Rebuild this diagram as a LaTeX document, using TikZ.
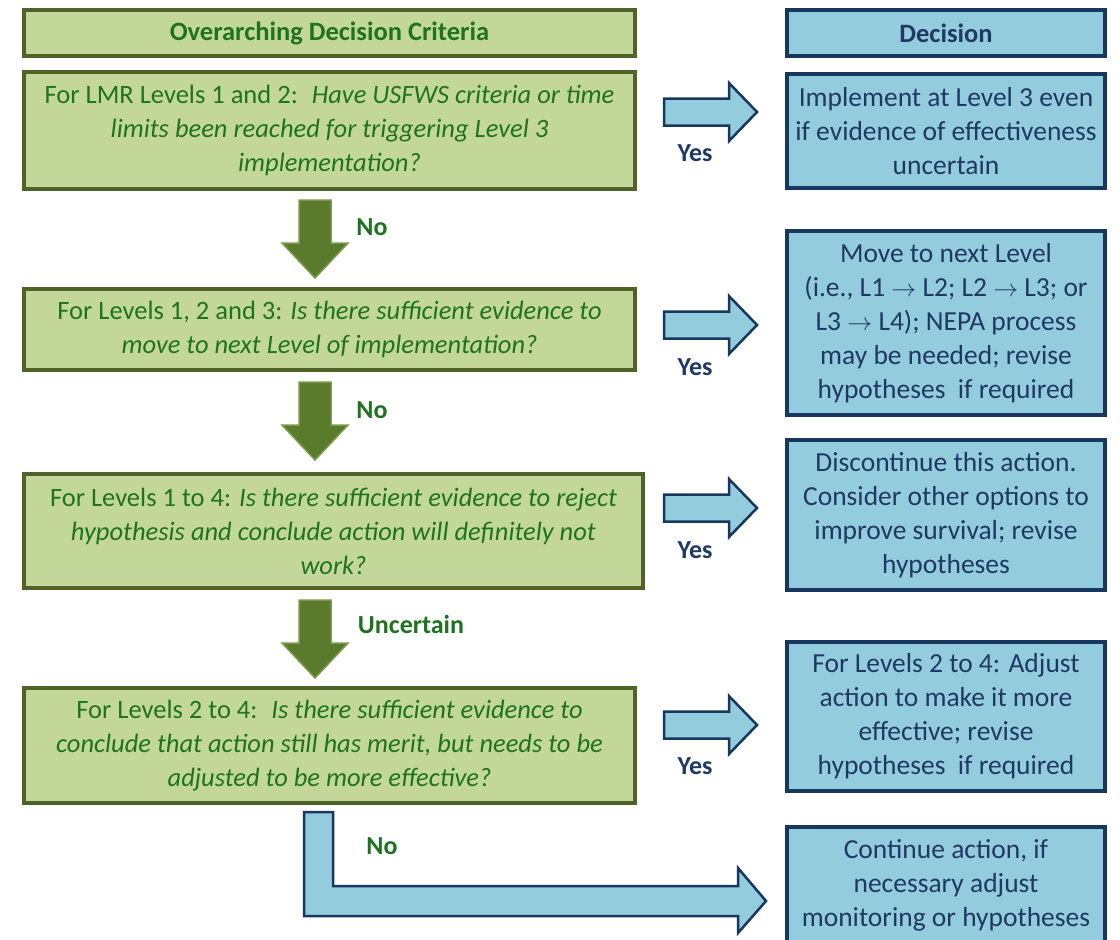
\documentclass[tikz,border=0pt]{standalone}
\usepackage{fontspec}
\setmainfont{Carlito}
\usetikzlibrary{shadows}

\definecolor{gfill}{HTML}{C4D79B}
\definecolor{gline}{HTML}{4F6228}
\definecolor{gtext}{HTML}{1E7321}
\definecolor{garrow}{HTML}{5A7A2C}
\definecolor{garrowedge}{HTML}{7A9A4C}
\definecolor{bfill}{HTML}{93CDDD}
\definecolor{bline}{HTML}{17375E}
\definecolor{btext}{HTML}{1F3864}

\tikzset{
  box/.style={draw, line width=3.5pt, inner sep=0pt, align=center,
    drop shadow={opacity=0.25, shadow xshift=1.5pt, shadow yshift=-2pt}},
  gbox/.style={box, fill=gfill, draw=gline, text=gtext,
    font=\fontsize{26.5}{34}\selectfont},
  bbox/.style={box, fill=bfill, draw=bline, text=btext,
    font=\fontsize{27.5}{34}\selectfont},
  headfont/.style={font=\fontsize{26.5}{34}\selectfont\bfseries},
  glabel/.style={font=\fontsize{26}{30}\selectfont\bfseries, text=gtext},
  blabel/.style={font=\fontsize{26}{30}\selectfont\bfseries, text=btext},
  % block arrow pointing right (to a decision)
  rarrow/.pic={\path[fill=bfill, draw=bline, line width=2.5pt]
    (0,-13.5) -- (65,-13.5) -- (65,-29) -- (93,0) -- (65,29) -- (65,13.5) -- (0,13.5) -- cycle;},
  % block arrow pointing down (to the next criterion)
  darrow/.pic={\path[fill=garrow, draw=garrowedge, line width=1.5pt]
    (-16,0) -- (16,0) -- (16,43) -- (33,43) -- (0,78) -- (-33,43) -- (-16,43) -- cycle;}
}

\begin{document}
\begin{tikzpicture}[x=1pt, y=-1pt]
\useasboundingbox[fill=white] (0,0) rectangle (1120,940);

% criteria column
\node[gbox, headfont, minimum width=611pt, minimum height=46pt] (gh) at (329.5,33)
  {Overarching Decision Criteria};
\node[gbox, minimum width=611pt, minimum height=117pt] (g1) at (329.5,130.5)
  {For LMR Levels 1 and 2:~ \textit{Have USFWS criteria or time}\\
   \textit{limits been reached for triggering Level 3}\\
   \textit{implementation?}};
\node[gbox, minimum width=611pt, minimum height=81pt] (g2) at (329.5,329.5)
  {For Levels 1, 2 and 3: \textit{Is there sufficient evidence to}\\
   \textit{move to next Level of implementation?}};
\node[gbox, minimum width=619pt, minimum height=114pt] (g3) at (333.5,531)
  {For Levels 1 to 4: \textit{Is there sufficient evidence to reject}\\
   \textit{hypothesis and conclude action will definitely not}\\
   \textit{work?}};
\node[gbox, minimum width=611pt, minimum height=115pt] (g4) at (329.5,745.5)
  {For Levels 2 to 4:~ \textit{Is there sufficient evidence to}\\
   \textit{conclude that action still has merit, but needs to be}\\
   \textit{adjusted to be more effective?}};

% decision column
\node[bbox, headfont, minimum width=318pt, minimum height=46pt] (bh) at (946,33)
  {Decision};
\node[bbox, minimum width=318pt, minimum height=114pt] (b1) at (946,131)
  {Implement at Level 3 even\\ if evidence of effectiveness\\ uncertain};
\node[bbox, minimum width=318pt, minimum height=184pt] (b2) at (946,323)
  {Move to next Level\\ (i.e., L1 $\rightarrow$ L2; L2 $\rightarrow$ L3; or\\
   L3 $\rightarrow$ L4); NEPA process\\ may be needed; revise\\ hypotheses~ if required};
\node[bbox, minimum width=318pt, minimum height=150pt] (b3) at (946,515)
  {Discontinue this action.\\ Consider other options to\\ improve survival; revise\\ hypotheses};
\node[bbox, minimum width=318pt, minimum height=149pt] (b4) at (946,716.5)
  {For Levels 2 to 4: Adjust\\ action to make it more\\ effective; revise\\ hypotheses~ if required};
\node[bbox, minimum width=318pt, minimum height=116pt] (b5) at (946,885)
  {Continue action, if\\ necessary adjust\\ monitoring or hypotheses};

% downward arrows between criteria
\pic at (315,200) {darrow};
\node[glabel] (no1) at (372,227) {No};
\pic at (315,382) {darrow};
\node[glabel] (no2) at (372,410) {No};
\pic at (315,600) {darrow};
\node[glabel] (unc) at (411,624) {Uncertain};

% arrows to the decisions
\pic at (664,112) {rarrow};
\node[blabel] (y1) at (695,153) {Yes};
\pic at (664,325) {rarrow};
\node[blabel] (y2) at (695,367) {Yes};
\pic at (664,508) {rarrow};
\node[blabel] (y3) at (695,550) {Yes};
\pic at (664,725) {rarrow};
\node[blabel] (y4) at (695,766) {Yes};

% bent arrow from the last criterion to the final decision
\path[fill=bfill, draw=bline, line width=2.5pt]
  (304,812) -- (333,812) -- (333,886) -- (738,886) -- (738,868) -- (766,901)
  -- (738,933) -- (738,916) -- (304,916) -- cycle;
\node[glabel] (no3) at (382,846) {No};
\end{tikzpicture}
\end{document}
